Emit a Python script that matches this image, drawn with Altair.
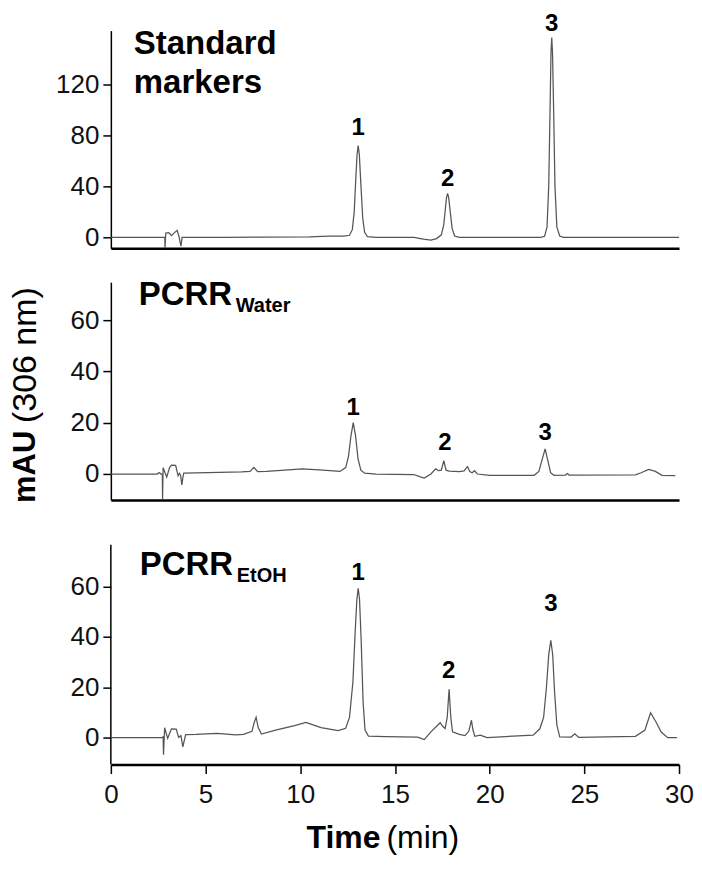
import altair as alt
import pandas as pd

# ---------------- data ----------------
std_trace = [(0, 0), (2.85, 0), (2.86, -8.6), (2.9, 3.4), (3.05, 3.6), (3.12, 2.8), (3.2, 1.3),
             (3.35, 3.5), (3.5, 5.5), (3.6, 0.5), (3.7, -7), (3.76, 0), (6, 0), (8, 0.1),
             (10.5, 0.3), (11.5, 0.9), (12.3, 1.0), (12.6, 1.6), (12.75, 6), (12.85, 20),
             (12.93, 45), (13.0, 65), (13.06, 72), (13.12, 65), (13.2, 42), (13.3, 15),
             (13.4, 4), (13.55, 0.6), (14, 0), (16, 0), (16.5, -1.5), (16.9, -2.2), (17.2, -1),
             (17.45, 2), (17.58, 10), (17.66, 22), (17.72, 31), (17.78, 34.5), (17.84, 31),
             (17.92, 20), (18.02, 7), (18.15, 1), (18.4, 0), (22.7, 0), (22.9, 0.8), (23.03, 8),
             (23.12, 40), (23.19, 100), (23.24, 145), (23.28, 157), (23.32, 145), (23.38, 100),
             (23.45, 40), (23.55, 8), (23.7, 1), (23.9, 0), (30, 0)]

water_trace = [(0, 0), (2.45, 0), (2.55, 0.6), (2.65, 0), (2.72, 0), (2.73, -10.1), (2.76, 2.4),
               (2.95, -1.2), (3.1, 2.5), (3.2, 3.5), (3.42, 3.4), (3.55, -0.7), (3.62, 0.3),
               (3.68, -0.5), (3.75, -4.3), (3.8, -1.5), (3.85, 0.3), (4.5, 0.4), (6.9, 0.8),
               (7.35, 1.0), (7.55, 2.6), (7.75, 0.9), (8.2, 1.0), (9.0, 1.4), (10.1, 2.0),
               (11.0, 1.6), (12.1, 1.0), (12.4, 2.5), (12.55, 7), (12.68, 15), (12.8, 20),
               (12.92, 15), (13.05, 6), (13.2, 1.5), (13.4, 0.3), (14.0, 0), (16.0, -0.2),
               (16.3, -1), (16.55, -1.6), (16.9, 0), (17.15, 2.0), (17.3, 1.3), (17.45, 1.5),
               (17.58, 5.2), (17.7, 1.5), (17.86, 1.1), (18.4, 0.9), (18.65, 1.2), (18.83, 2.9),
               (18.95, 1.0), (19.08, 0.5), (19.2, 1.3), (19.35, 0), (20.0, -0.5), (22.35, -0.5),
               (22.6, 1.0), (22.75, 5), (22.93, 9.8), (23.08, 5), (23.22, 0.5), (23.4, -0.5),
               (24.0, -0.4), (24.1, 0.2), (24.2, -0.4), (27.7, -0.3), (28.0, 0.5), (28.4, 1.8),
               (28.75, 1.0), (29.1, -0.5), (29.8, -0.6)]

etoh_trace = [(0, 0), (2.7, 0), (2.76, 0.3), (2.78, -6.8), (2.84, 3.9), (3.0, -0.3), (3.2, 3.5),
              (3.45, 3.4), (3.58, 0.1), (3.7, 0.8), (3.8, -3.7), (3.95, 1.2), (4.5, 1.3),
              (5.6, 1.7), (6.6, 1.1), (7.0, 1.3), (7.45, 2.5), (7.57, 6), (7.67, 8.1), (7.78, 4),
              (7.95, 1.4), (8.7, 3), (9.7, 4.8), (10.3, 6), (11.1, 4), (12.0, 2.8), (12.4, 3.7),
              (12.6, 8), (12.78, 22), (12.9, 42), (12.99, 55), (13.06, 59.3), (13.13, 55),
              (13.22, 38), (13.32, 14), (13.42, 3), (13.6, 0.6), (14.5, 0.4), (16.2, 0.2),
              (16.55, -0.8), (16.9, 2.3), (17.2, 4.5), (17.39, 5.9), (17.52, 4.5), (17.65, 3.6),
              (17.76, 8), (17.86, 19.2), (17.95, 8), (18.04, 2.3), (18.4, 1.3), (18.7, 0.8),
              (18.9, 2.5), (19.04, 6.9), (19.12, 3), (19.22, 0.5), (19.5, 1), (19.87, 0),
              (22.3, 1), (22.65, 3.5), (22.85, 8), (23.0, 20), (23.12, 33), (23.23, 38.7),
              (23.33, 33), (23.43, 18), (23.55, 5), (23.7, 0.3), (24.3, 0.2), (24.5, 1.5),
              (24.7, 0.1), (27.7, 0.5), (28.2, 3), (28.5, 9.9), (28.8, 6), (29.05, 2.3),
              (29.4, 0), (29.9, 0)]

peak_names = ["1", "2", "3"]
std_label_t = [13.06, 17.78, 23.28]
std_label_v = [85.5, 46.0, 167.8]
water_label_t = [12.8, 17.64, 22.93]
water_label_v = [25.7, 12.0, 15.9]
etoh_label_t = [13.06, 17.84, 23.23]
etoh_label_v = [65.4, 26.3, 53.1]

x_ticks = [0, 5, 10, 15, 20, 25, 30]
std_yticks = [0, 40, 80, 120]
sample_yticks = [0, 20, 40, 60]
std_domain = [-8.6, 162.4]
water_domain = [-10.1, 74.8]
etoh_domain = [-10.7, 81.0]

FONT = "Liberation Sans"
W = 569
H_TOP = 218
H_MID = 218
H_BOT = 231
EXTRA = 11  # part of bottom plot area above its visible y-axis line


def trace_df(tr):
    return pd.DataFrame({"t": [p[0] for p in tr], "v": [p[1] for p in tr]})


def label_df(ts, vs):
    return pd.DataFrame({"t": ts, "v": vs, "label": peak_names})


def panel(trace, lt, lv, domain, yticks, bottom):
    xscale = alt.Scale(domain=[0, 30], nice=False, zero=False)
    yscale = alt.Scale(domain=domain, nice=False, zero=False)
    if bottom:
        xaxis = alt.Axis(values=x_ticks, title=None, grid=False, tickSize=9, tickWidth=1.5,
                         tickColor="black", domainColor="black", domainWidth=2.5,
                         labelFont=FONT, labelFontSize=26, labelColor="#111",
                         labelPadding=8, labelFlush=False)
        yaxis = alt.Axis(values=yticks, title=None, grid=False, tickSize=8, tickWidth=1.5,
                         tickColor="black", domain=False,
                         labelFont=FONT, labelFontSize=26, labelColor="#111", labelPadding=4)
    else:
        xaxis = alt.Axis(labels=False, ticks=False, title=None, grid=False,
                         domainColor="black", domainWidth=2.5)
        yaxis = alt.Axis(values=yticks, title=None, grid=False, tickSize=8, tickWidth=1.5,
                         tickColor="black", domainColor="black", domainWidth=1.5,
                         labelFont=FONT, labelFontSize=26, labelColor="#111", labelPadding=4)
    line = alt.Chart(trace_df(trace)).mark_line(color="#555", strokeWidth=1.25).encode(
        x=alt.X("t:Q", scale=xscale, axis=xaxis),
        y=alt.Y("v:Q", scale=yscale, axis=yaxis),
    )
    labs = alt.Chart(label_df(lt, lv)).mark_text(
        font=FONT, fontSize=24, fontWeight="bold", baseline="middle", color="black"
    ).encode(
        x=alt.X("t:Q", scale=xscale, axis=xaxis),
        y=alt.Y("v:Q", scale=yscale, axis=yaxis),
        text="label:N",
    )
    return line, labs


def txt(s, x, y, size, weight="bold", angle=0, align="left"):
    kw = dict(font=FONT, fontSize=size, fontWeight=weight, align=align,
              baseline="alphabetic", color="black")
    if angle:
        kw["angle"] = angle
    return alt.Chart(pd.DataFrame({"s": [s]})).mark_text(**kw).encode(
        x=alt.value(x), y=alt.value(y), text="s:N")


# top panel
l1, t1 = panel(std_trace, std_label_t, std_label_v, std_domain, std_yticks, False)
top = alt.layer(
    l1, t1,
    txt("Standard", 23, 23, 33),
    txt("markers", 23, 63, 33),
).properties(width=W, height=H_TOP)

# middle panel
l2, t2 = panel(water_trace, water_label_t, water_label_v, water_domain, sample_yticks, False)
mid = alt.layer(
    l2, t2,
    txt("PCRR", 28, 23, 33),
    txt("Water", 125, 30, 20),
    txt("mAU", -76, 221, 31, angle=270),
    txt("(306 nm)", -75, 141, 34, weight="normal", angle=270),
).properties(width=W, height=H_MID)

# bottom panel (plot area starts EXTRA px above the visible y-axis line)
l3, t3 = panel(etoh_trace, etoh_label_t, etoh_label_v, etoh_domain, sample_yticks, True)
yline = alt.Chart(pd.DataFrame({"s": [0]})).mark_rule(color="black", strokeWidth=1.5).encode(
    x=alt.value(0), y=alt.value(EXTRA), y2=alt.value(H_BOT))
bot = alt.layer(
    yline, l3, t3,
    txt("PCRR", 29, 41, 33),
    txt("EtOH", 126, 48, 20),
    txt("Time", 196, 315, 32),
    txt("(min)", 276, 315, 32, weight="normal"),
).properties(width=W, height=H_BOT)

chart = alt.vconcat(top, mid, bot, spacing=34, bounds="flush").properties(
    padding={"left": 0, "top": 3, "right": 0, "bottom": 0}
).configure_view(stroke="transparent", strokeWidth=0)

chart.save("out.html", embed_options={"renderer": "svg", "actions": False})
